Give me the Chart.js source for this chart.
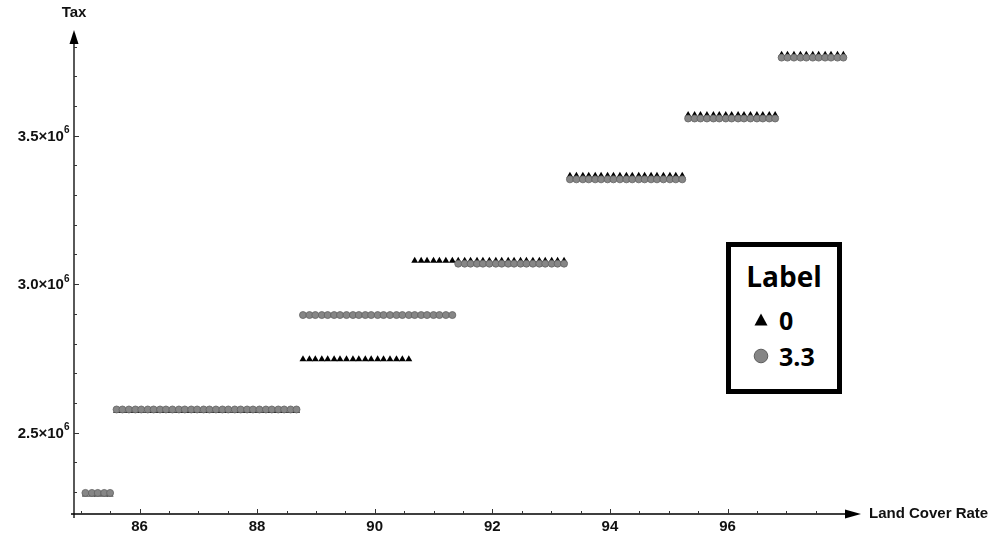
<!DOCTYPE html>
<html>
<head>
<meta charset="utf-8">
<script src="https://cdn.jsdelivr.net/npm/chart.js@4"></script>
<style>
  html, body { margin: 0; padding: 0; background: #fff; }
  #wrap { position: relative; width: 997px; height: 537px; }
  #legend {
    position: absolute; left: 726px; top: 242px; width: 116px; height: 152px;
    box-sizing: border-box; border: 5px solid #000; background: #fff;
    font-family: "Open Sans", "Noto Sans", sans-serif; font-weight: bold; color: #000;
  }
  #legend .title { position: absolute; left: 0; right: 0; top: 11px; text-align: center; font-size: 28px; line-height: 36px; }
  #legend .row { position: absolute; left: 0; height: 30px; line-height: 30px; font-size: 25px; }
  #legend .row svg { position: absolute; left: 22px; top: 7px; }
  #legend .row span { position: absolute; left: 48px; top: 0; white-space: nowrap; }
</style>
</head>
<body>
<div id="wrap">
  <canvas id="chart" width="997" height="537"></canvas>
  <div id="legend">
    <div class="title">Label</div>
    <div class="row" style="top:58px">
      <svg width="16" height="16" viewBox="0 0 16 16"><polygon points="8,1.5 14.5,13.5 1.5,13.5" fill="#000"/></svg>
      <span>0</span>
    </div>
    <div class="row" style="top:94px">
      <svg width="16" height="16" viewBox="0 0 16 16"><circle cx="8" cy="8" r="6.8" fill="#858585" stroke="#5e5e5e" stroke-width="1"/></svg>
      <span>3.3</span>
    </div>
  </div>
</div>
<script>
// Land cover rate (%) at each sampled point
const landCoverRate = [
  85.08, 85.19, 85.29, 85.40, 85.50, 85.61, 85.71, 85.82, 85.93, 86.03,
  86.14, 86.24, 86.35, 86.45, 86.56, 86.67, 86.77, 86.88, 86.98, 87.09,
  87.19, 87.30, 87.41, 87.51, 87.62, 87.72, 87.83, 87.93, 88.04, 88.15,
  88.25, 88.36, 88.46, 88.57, 88.67, 88.78, 88.89, 88.99, 89.10, 89.20,
  89.31, 89.41, 89.52, 89.63, 89.73, 89.84, 89.94, 90.05, 90.15, 90.26,
  90.37, 90.47, 90.58, 90.68, 90.79, 90.89, 91.00, 91.10, 91.21, 91.32,
  91.42, 91.53, 91.63, 91.74, 91.84, 91.95, 92.06, 92.16, 92.27, 92.37,
  92.48, 92.58, 92.69, 92.80, 92.90, 93.01, 93.11, 93.22, 93.32, 93.43,
  93.54, 93.64, 93.75, 93.85, 93.96, 94.06, 94.17, 94.28, 94.38, 94.49,
  94.59, 94.70, 94.80, 94.91, 95.02, 95.12, 95.23, 95.33, 95.44, 95.54,
  95.65, 95.76, 95.86, 95.97, 96.07, 96.18, 96.28, 96.39, 96.50, 96.60,
  96.71, 96.81, 96.92, 97.02, 97.13, 97.24, 97.34, 97.45, 97.55, 97.66,
  97.76, 97.87, 97.97
];

// Tax for label 0
const taxLabel0 = [
  2.292e6, 2.292e6, 2.292e6, 2.292e6, 2.292e6,
  2.573e6, 2.573e6, 2.573e6, 2.573e6, 2.573e6, 2.573e6, 2.573e6, 2.573e6, 2.573e6, 2.573e6,
  2.573e6, 2.573e6, 2.573e6, 2.573e6, 2.573e6, 2.573e6, 2.573e6, 2.573e6, 2.573e6, 2.573e6,
  2.573e6, 2.573e6, 2.573e6, 2.573e6, 2.573e6, 2.573e6, 2.573e6, 2.573e6, 2.573e6, 2.573e6,
  2.747e6, 2.747e6, 2.747e6, 2.747e6, 2.747e6, 2.747e6, 2.747e6, 2.747e6, 2.747e6, 2.747e6,
  2.747e6, 2.747e6, 2.747e6, 2.747e6, 2.747e6, 2.747e6, 2.747e6, 2.747e6,
  3.079e6, 3.079e6, 3.079e6, 3.079e6, 3.079e6, 3.079e6, 3.079e6, 3.079e6, 3.079e6, 3.079e6,
  3.079e6, 3.079e6, 3.079e6, 3.079e6, 3.079e6, 3.079e6, 3.079e6, 3.079e6, 3.079e6, 3.079e6,
  3.079e6, 3.079e6, 3.079e6, 3.079e6, 3.079e6,
  3.365e6, 3.365e6, 3.365e6, 3.365e6, 3.365e6, 3.365e6, 3.365e6, 3.365e6, 3.365e6, 3.365e6,
  3.365e6, 3.365e6, 3.365e6, 3.365e6, 3.365e6, 3.365e6, 3.365e6, 3.365e6, 3.365e6,
  3.570e6, 3.570e6, 3.570e6, 3.570e6, 3.570e6, 3.570e6, 3.570e6, 3.570e6, 3.570e6, 3.570e6,
  3.570e6, 3.570e6, 3.570e6, 3.570e6, 3.570e6,
  3.773e6, 3.773e6, 3.773e6, 3.773e6, 3.773e6, 3.773e6, 3.773e6, 3.773e6, 3.773e6, 3.773e6,
  3.773e6
];

// Tax for label 3.3
const taxLabel33 = [
  2.297e6, 2.297e6, 2.297e6, 2.297e6, 2.297e6,
  2.578e6, 2.578e6, 2.578e6, 2.578e6, 2.578e6, 2.578e6, 2.578e6, 2.578e6, 2.578e6, 2.578e6,
  2.578e6, 2.578e6, 2.578e6, 2.578e6, 2.578e6, 2.578e6, 2.578e6, 2.578e6, 2.578e6, 2.578e6,
  2.578e6, 2.578e6, 2.578e6, 2.578e6, 2.578e6, 2.578e6, 2.578e6, 2.578e6, 2.578e6, 2.578e6,
  2.896e6, 2.896e6, 2.896e6, 2.896e6, 2.896e6, 2.896e6, 2.896e6, 2.896e6, 2.896e6, 2.896e6,
  2.896e6, 2.896e6, 2.896e6, 2.896e6, 2.896e6, 2.896e6, 2.896e6, 2.896e6, 2.896e6, 2.896e6,
  2.896e6, 2.896e6, 2.896e6, 2.896e6, 2.896e6,
  3.069e6, 3.069e6, 3.069e6, 3.069e6, 3.069e6, 3.069e6, 3.069e6, 3.069e6, 3.069e6, 3.069e6,
  3.069e6, 3.069e6, 3.069e6, 3.069e6, 3.069e6, 3.069e6, 3.069e6, 3.069e6,
  3.353e6, 3.353e6, 3.353e6, 3.353e6, 3.353e6, 3.353e6, 3.353e6, 3.353e6, 3.353e6, 3.353e6,
  3.353e6, 3.353e6, 3.353e6, 3.353e6, 3.353e6, 3.353e6, 3.353e6, 3.353e6, 3.353e6,
  3.558e6, 3.558e6, 3.558e6, 3.558e6, 3.558e6, 3.558e6, 3.558e6, 3.558e6, 3.558e6, 3.558e6,
  3.558e6, 3.558e6, 3.558e6, 3.558e6, 3.558e6,
  3.763e6, 3.763e6, 3.763e6, 3.763e6, 3.763e6, 3.763e6, 3.763e6, 3.763e6, 3.763e6, 3.763e6,
  3.763e6
];

// Axis ticks
const xMajorTicks = [86, 88, 90, 92, 94, 96];
const yMajorTicks = [2.5e6, 3.0e6, 3.5e6];
const yTickLabels = ['2.5', '3.0', '3.5'];
const xTitle = 'Land Cover Rate';
const yTitle = 'Tax';

const LABEL_FONT = 'bold 15px "Liberation Sans", Arial, sans-serif';
const SUP_FONT = 'bold 10px "Liberation Sans", Arial, sans-serif';

// Arrow-tipped axes with inward ticks, drawn under the markers
const arrowAxes = {
  id: 'arrowAxes',
  beforeDatasetsDraw(chart) {
    const { ctx, chartArea, scales } = chart;
    const xs = scales.x, ys = scales.y;
    const x0 = chartArea.left, y0 = chartArea.bottom;
    const xEnd = chartArea.right, yEnd = chartArea.top;
    ctx.save();
    ctx.strokeStyle = '#000';
    ctx.fillStyle = '#000';
    ctx.lineWidth = 1.3;

    // axis lines
    ctx.beginPath();
    ctx.moveTo(x0 - 3, y0); ctx.lineTo(xEnd - 14, y0);
    ctx.moveTo(x0, y0 + 4); ctx.lineTo(x0, yEnd + 12);
    ctx.stroke();

    // arrowheads
    ctx.beginPath();
    ctx.moveTo(xEnd, y0); ctx.lineTo(xEnd - 16, y0 - 4.5); ctx.lineTo(xEnd - 16, y0 + 4.5); ctx.closePath();
    ctx.fill();
    ctx.beginPath();
    ctx.moveTo(x0, yEnd); ctx.lineTo(x0 - 4.5, yEnd + 14); ctx.lineTo(x0 + 4.5, yEnd + 14); ctx.closePath();
    ctx.fill();

    // x ticks (every 0.5, longer at labelled values)
    ctx.lineWidth = 1;
    ctx.strokeStyle = '#333';
    ctx.beginPath();
    for (let v = Math.ceil(xs.min * 2) / 2; v <= 97.5; v += 0.5) {
      const px = Math.round(xs.getPixelForValue(v)) + 0.5;
      const len = xMajorTicks.includes(v) ? 5 : 3;
      ctx.moveTo(px, y0); ctx.lineTo(px, y0 - len);
    }
    // y ticks (every 0.1e6)
    for (let k = 23; k <= 38; k++) {
      const v = k * 1e5;
      const py = Math.round(ys.getPixelForValue(v)) + 0.5;
      const len = yMajorTicks.includes(v) ? 5 : 3;
      ctx.moveTo(x0, py); ctx.lineTo(x0 + len, py);
    }
    ctx.stroke();

    // x tick labels
    ctx.fillStyle = '#111';
    ctx.font = LABEL_FONT;
    ctx.textAlign = 'center';
    ctx.textBaseline = 'middle';
    xMajorTicks.forEach(v => ctx.fillText(String(v), xs.getPixelForValue(v), y0 + 13));

    // y tick labels: mantissa × 10 with superscript exponent
    yMajorTicks.forEach((v, i) => {
      const py = ys.getPixelForValue(v);
      ctx.font = SUP_FONT;
      ctx.textAlign = 'right';
      const supW = ctx.measureText('6').width;
      ctx.fillText('6', x0 - 4.5, py - 5);
      ctx.font = LABEL_FONT;
      ctx.fillText(yTickLabels[i] + '\u00d710', x0 - 4.5 - supW, py + 1);
    });

    // axis titles
    ctx.font = LABEL_FONT;
    ctx.textAlign = 'center';
    ctx.fillText(yTitle, x0, 13);
    ctx.textAlign = 'left';
    ctx.fillText(xTitle, xEnd + 8, y0);
    ctx.restore();
  }
};

const pointsOf = ys => landCoverRate.map((x, i) => ({ x: x, y: ys[i] }));

new Chart(document.getElementById('chart'), {
  type: 'scatter',
  data: {
    datasets: [
      {
        label: '0',
        data: pointsOf(taxLabel0),
        pointStyle: 'triangle',
        pointRadius: 4,
        backgroundColor: '#000',
        borderColor: '#000',
        borderWidth: 0,
        order: 1,
        clip: false
      },
      {
        label: '3.3',
        data: pointsOf(taxLabel33),
        pointStyle: 'circle',
        pointRadius: 3.5,
        backgroundColor: '#868686',
        borderColor: '#626262',
        borderWidth: 0.8,
        order: 0,
        clip: false
      }
    ]
  },
  options: {
    responsive: false,
    animation: false,
    layout: { padding: { left: 74, right: 136, top: 30, bottom: 23 } },
    scales: {
      x: { type: 'linear', min: 84.886, max: 98.27, display: false },
      y: { type: 'linear', min: 2.226e6, max: 3.856e6, display: false }
    },
    plugins: {
      legend: { display: false },
      tooltip: { enabled: false }
    }
  },
  plugins: [arrowAxes]
});
</script>
</body>
</html>
